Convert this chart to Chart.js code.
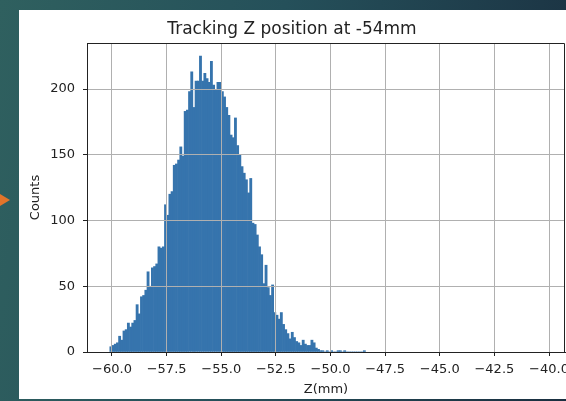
<!DOCTYPE html>
<html>
<head>
<meta charset="utf-8">
<script src="https://cdn.jsdelivr.net/npm/chart.js@4.4.1/dist/chart.umd.min.js"></script>
<style>
    html, body { margin: 0; padding: 0; }
    body {
        width: 566px; height: 401px; overflow: hidden; position: relative;
        background: linear-gradient(100deg, #2f605f 0%, #25505a 45%, #1a2f40 100%);
    }
    #panel { position: absolute; left: 19px; top: 10px; width: 547px; height: 389px; background: #fff; }
    #arrow {
        position: absolute; left: 0; top: 194px; width: 0; height: 0;
        border-left: 10px solid #e2742a; border-top: 6px solid transparent; border-bottom: 6px solid transparent;
    }
</style>
</head>
<body>
<div id="arrow"></div>
<div id="panel"><canvas id="hist" width="547" height="389"></canvas></div>
<script>
// histogram bins: first bin starts at binStart, each binWidth wide
const binStart = -60.1;
const binWidth = 0.1;
const counts = [
    4, 5, 6, 7, 12, 9, 16, 17, 22, 19,
    22, 24, 36, 29, 42, 43, 47, 61, 50, 64,
    65, 67, 80, 79, 80, 112, 104, 120, 122, 142,
    143, 146, 156, 149, 183, 184, 198, 213, 186, 206,
    206, 225, 206, 212, 208, 205, 221, 203, 199, 205,
    205, 198, 194, 186, 180, 165, 163, 178, 157, 150,
    141, 136, 131, 121, 132, 98, 97, 89, 80, 74,
    52, 66, 49, 43, 51, 30, 28, 25, 30, 21,
    17, 14, 10, 15, 11, 8, 7, 5, 9, 6,
    5, 5, 9, 7, 3, 2, 1, 1, 0, 1,
    0, 1, 0, 0, 1, 1, 0, 1, 0, 0,
    0, 0, 0, 0, 0, 0, 1
];
const xTicks = [-60, -57.5, -55, -52.5, -50, -47.5, -45, -42.5, -40];
const yTicks = [0, 50, 100, 150, 200];
const titleText = 'Tracking Z position at -54mm';
const xLabel = 'Z(mm)';
const yLabel = 'Counts';

const points = counts.map((c, i) => ({ x: binStart + (i + 0.5) * binWidth, y: c }));

const textColor = '#222';
const gridColor = '#b0b0b0';
const font = { family: "'DejaVu Sans', sans-serif", size: 13 };

// top and right spines (matplotlib box)
const frame = {
    id: 'frame',
    afterDraw(chart) {
        const { ctx, chartArea: a } = chart;
        ctx.save();
        ctx.strokeStyle = textColor;
        ctx.lineWidth = 1;
        ctx.beginPath();
        ctx.moveTo(a.left, a.top + 0.5);
        ctx.lineTo(a.right - 0.5, a.top + 0.5);
        ctx.lineTo(a.right - 0.5, a.bottom);
        ctx.stroke();
        ctx.restore();
    }
};

new Chart(document.getElementById('hist'), {
    type: 'bar',
    data: {
        datasets: [{
            data: points,
            backgroundColor: '#3674ad',
            borderWidth: 0,
            barPercentage: 1,
            categoryPercentage: 1
        }]
    },
    options: {
        responsive: false,
        animation: false,
        layout: { padding: { left: 0, right: 1, top: 0, bottom: 0 } },
        plugins: {
            legend: { display: false },
            tooltip: { enabled: false },
            title: {
                display: true,
                text: titleText,
                color: textColor,
                font: { family: "'DejaVu Sans', sans-serif", size: 17, weight: 'normal' },
                padding: { top: 9, bottom: 3.6 }
            }
        },
        scales: {
            x: {
                type: 'linear',
                min: -61.144,
                max: -39.268,
                offset: false,
                grid: { color: gridColor, tickColor: textColor, tickLength: 4, offset: false, z: 1 },
                border: { color: textColor, width: 1, z: 2 },
                ticks: {
                    color: textColor, font, padding: 6, autoSkip: false, maxRotation: 0,
                    callback: (v) => v.toFixed(1).replace('-', '\u2212')
                },
                title: { display: true, text: xLabel, color: textColor, font, padding: { top: 0, bottom: 2 } },
                afterBuildTicks: (s) => { s.ticks = xTicks.map(v => ({ value: v })); },
                afterFit: (s) => { s.height = 47; s.paddingLeft = 0; s.paddingRight = 0; }
            },
            y: {
                min: 0,
                max: 235,
                grid: { color: gridColor, tickColor: textColor, tickLength: 4, z: 1 },
                border: { color: textColor, width: 1, z: 2 },
                ticks: { color: textColor, font, padding: 8 },
                title: { display: true, text: yLabel, color: textColor, font, padding: { top: 9, bottom: 0 } },
                afterBuildTicks: (s) => { s.ticks = yTicks.map(v => ({ value: v })); },
                afterFit: (s) => { s.width = 68; s.paddingTop = 0; s.paddingBottom = 0; }
            }
        }
    },
    plugins: [frame]
});
</script>
</body>
</html>
